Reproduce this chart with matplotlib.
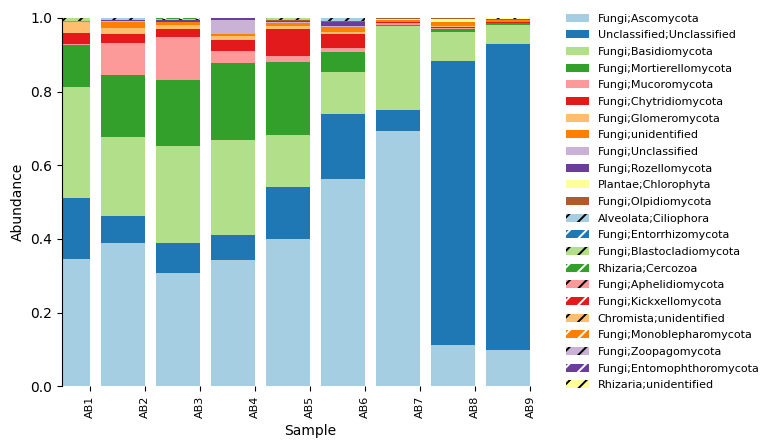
import numpy as np
import matplotlib
matplotlib.use('Agg')
from matplotlib import pyplot as plt

plt.rcParams['hatch.linewidth'] = 1.4

samples = ['AB1', 'AB2', 'AB3', 'AB4', 'AB5', 'AB6', 'AB7', 'AB8', 'AB9']

taxa = ['Fungi;Ascomycota', 'Unclassified;Unclassified', 'Fungi;Basidiomycota',
        'Fungi;Mortierellomycota', 'Fungi;Mucoromycota', 'Fungi;Chytridiomycota',
        'Fungi;Glomeromycota', 'Fungi;unidentified', 'Fungi;Unclassified',
        'Fungi;Rozellomycota', 'Plantae;Chlorophyta', 'Fungi;Olpidiomycota',
        'Alveolata;Ciliophora', 'Fungi;Entorrhizomycota', 'Fungi;Blastocladiomycota',
        'Rhizaria;Cercozoa', 'Fungi;Aphelidiomycota', 'Fungi;Kickxellomycota',
        'Chromista;unidentified', 'Fungi;Monoblepharomycota', 'Fungi;Zoopagomycota',
        'Fungi;Entomophthoromycota', 'Rhizaria;unidentified']

# relative abundance per sample (AB1..AB9)
ascomycota = [0.346, 0.389, 0.308, 0.3415, 0.399, 0.5625, 0.694, 0.1105, 0.099]
unclassified = [0.165, 0.073, 0.0815, 0.0685, 0.141, 0.1755, 0.056, 0.7735, 0.830]
basidiomycota = [0.302, 0.214, 0.2625, 0.2585, 0.142, 0.114, 0.228, 0.077, 0.052]
mortierellomycota = [0.113, 0.169, 0.1795, 0.2085, 0.198, 0.0555, 0.004, 0.010, 0.006]
mucoromycota = [0.003, 0.086, 0.1175, 0.032, 0.017, 0.0105, 0.003, 0.001, 0.0]
chytridiomycota = [0.030, 0.026, 0.021, 0.030, 0.073, 0.037, 0.004, 0.004, 0.001]
glomeromycota = [0.029, 0.015, 0.012, 0.012, 0.008, 0.006, 0.001, 0.002, 0.0]
fungi_unidentified = [0.004, 0.018, 0.006, 0.004, 0.008, 0.014, 0.005, 0.011, 0.005]
fungi_unclassified = [0.0, 0.001, 0.002, 0.0395, 0.003, 0.002, 0.0, 0.0, 0.0]
rozellomycota = [0.0, 0.003, 0.003, 0.0055, 0.002, 0.0125, 0.0, 0.0, 0.0]
chlorophyta = [0.0, 0.0, 0.0, 0.0, 0.0, 0.0, 0.001, 0.007, 0.0]
olpidiomycota = [0.0, 0.0, 0.0, 0.0, 0.002, 0.003, 0.004, 0.004, 0.003]
ciliophora = [0.0, 0.006, 0.004, 0.0, 0.004, 0.0075, 0.0, 0.0, 0.0]
entorrhizomycota = [0.0, 0.0, 0.0, 0.0, 0.0, 0.0, 0.0, 0.0, 0.0]
blastocladiomycota = [0.008, 0.0, 0.0, 0.0, 0.003, 0.0, 0.0, 0.0, 0.0]
cercozoa = [0.0, 0.0, 0.003, 0.0, 0.0, 0.0, 0.0, 0.0, 0.0]
aphelidiomycota = [0.0] * 9
kickxellomycota = [0.0] * 9
chromista_unidentified = [0.0] * 9
monoblepharomycota = [0.0] * 9
zoopagomycota = [0.0] * 9
entomophthoromycota = [0.0] * 9
rhizaria_unidentified = [0.0, 0.0, 0.0, 0.0, 0.0, 0.0, 0.0, 0.0, 0.004]

values = [ascomycota, unclassified, basidiomycota, mortierellomycota, mucoromycota,
          chytridiomycota, glomeromycota, fungi_unidentified, fungi_unclassified,
          rozellomycota, chlorophyta, olpidiomycota, ciliophora, entorrhizomycota,
          blastocladiomycota, cercozoa, aphelidiomycota, kickxellomycota,
          chromista_unidentified, monoblepharomycota, zoopagomycota,
          entomophthoromycota, rhizaria_unidentified]

paired = plt.get_cmap('Paired').colors

fig = plt.figure(figsize=(7.75, 4.48), dpi=100)
ax = fig.add_axes([0.08, 0.138, 0.64, 0.822])

x = np.arange(len(samples))
bottom = np.zeros(len(samples))
for i, (name, vals) in enumerate(zip(taxa, values)):
    vals = np.array(vals)
    color = paired[i % 12]
    if i < 12:
        ax.bar(x, vals, width=-0.8, align='edge', bottom=bottom,
               color=color, linewidth=0, label=name)
    else:
        # light colours get black hatching, dark ones white
        hcol = 'black' if (i % 2 == 0) else 'white'
        ax.bar(x, vals, width=-0.8, align='edge', bottom=bottom,
               facecolor=color, edgecolor=hcol, linewidth=0, hatch='//',
               label=name)
    bottom += vals

ax.set_xlim(-0.5, 8.5)
ax.set_ylim(0, 1)
ax.set_xticks(x)
ax.set_xticklabels(samples, rotation=90, fontsize=8)
ax.tick_params(axis='y', labelsize=10)
ax.set_xlabel('Sample', fontsize=10)
ax.set_ylabel('Abundance', fontsize=10)
for s in ['top', 'right', 'bottom']:
    ax.spines[s].set_visible(False)

fig.legend(loc='upper left', bbox_to_anchor=(0.718, 0.992), frameon=False,
           fontsize=8, labelspacing=0.6)

fig.savefig('out.png', dpi=100)
